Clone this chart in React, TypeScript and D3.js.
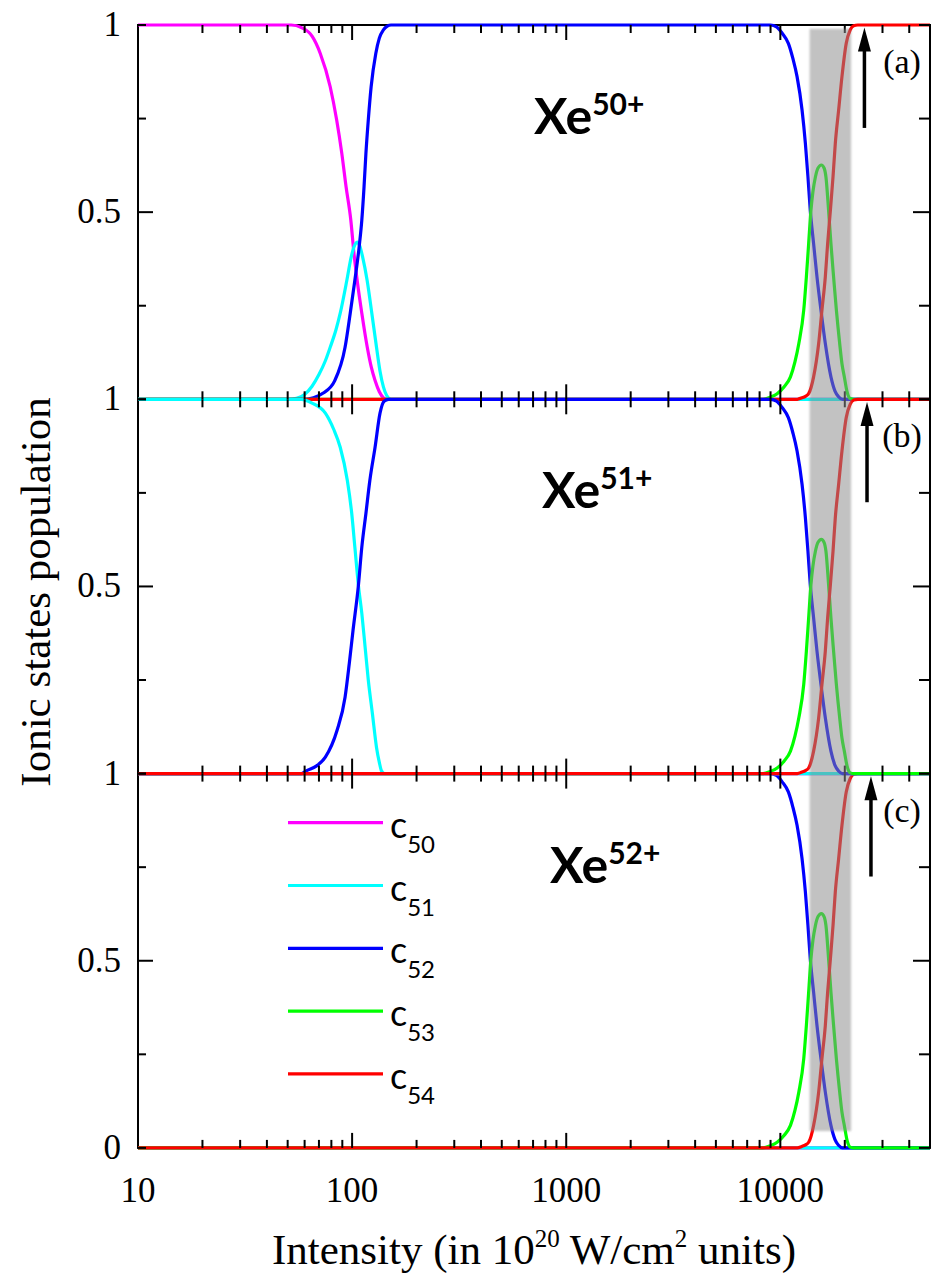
import React from 'react';
import * as d3 from 'd3';

// ---------- data ----------
const xMajorTicks = [10, 100, 1000, 10000];
const xTickLabels = ['10', '100', '1000', '10000'];
const yTicks = [0, 0.25, 0.5, 0.75, 1];
const seriesNames = ['50', '51', '52', '53', '54'];
const seriesColors = ['#ff00ff', '#00ffff', '#0000ff', '#00ff00', '#ff0000'];
const panelIons = ['50+', '51+', '52+'];
const panelTags = ['(a)', '(b)', '(c)'];

type P = [number, number];

const zeroLine: P[] = [[10, 0], [50000, 0]];

// panel (a) Xe50+
const c50a: P[] = [[10, 1], [52, 1], [58, 0.993], [65, 0.97], [71, 0.924], [79, 0.835], [84.7, 0.746], [89.5, 0.657], [93.7, 0.568], [98.6, 0.479], [102, 0.39], [106, 0.31], [111, 0.23], [117.7, 0.139], [123, 0.085], [128, 0.05], [134, 0.02], [140, 0.004], [146, 0], [50000, 0]];
const c51a: P[] = [[10, 0], [50, 0], [55, 0.003], [60, 0.013], [65, 0.035], [70, 0.066], [75, 0.103], [79, 0.139], [84, 0.185], [88, 0.23], [94.5, 0.318], [99, 0.38], [103, 0.413], [105.5, 0.42], [108.5, 0.41], [112, 0.38], [117.5, 0.318], [123.6, 0.23], [130, 0.139], [135, 0.075], [140, 0.033], [145, 0.01], [152, 0], [50000, 0]];
const c52aRise: P[] = [[10, 0], [60, 0], [66, 0.004], [73, 0.016], [83, 0.05], [92.7, 0.139], [98, 0.23], [103, 0.318], [108, 0.41], [111, 0.479], [113.7, 0.568], [116, 0.657], [119, 0.746], [122.7, 0.835], [129, 0.924], [134, 0.965], [140, 0.987], [146, 0.997], [152, 1]];

// panel (b) Xe51+
const c51b: P[] = [[10, 1], [58, 1], [65, 0.99], [75, 0.963], [82, 0.92], [88, 0.872], [95, 0.783], [99.6, 0.695], [103, 0.605], [107, 0.503], [111, 0.428], [115, 0.338], [119, 0.25], [124.4, 0.16], [130, 0.07], [134, 0.03], [137, 0.008], [142, 0], [50000, 0]];
const c52bRise: P[] = [[10, 0], [58, 0], [61.4, 0.008], [68, 0.02], [75, 0.044], [85, 0.115], [92.7, 0.204], [97, 0.294], [101, 0.383], [107, 0.503], [111, 0.605], [116, 0.695], [121, 0.783], [128, 0.872], [135, 0.963], [141, 0.995], [148, 1]];

// panel (c) Xe52+
const c52cStart: P[] = [[10, 1]];

// common high-intensity part (all panels)
const c52Fall: P[] = [[9000, 1], [9600, 0.995], [10200, 0.978], [10900, 0.951], [11450, 0.91], [11970, 0.862], [12630, 0.773], [13090, 0.684], [13460, 0.594], [13800, 0.505], [14300, 0.416], [14830, 0.327], [15480, 0.238], [16220, 0.149], [17230, 0.06], [18000, 0.022], [18700, 0.007], [19500, 0], [50000, 0]];
const c53All: P[] = [[10, 0], [8300, 0], [9000, 0.006], [9660, 0.015], [10400, 0.033], [11150, 0.06], [11700, 0.1], [12200, 0.149], [12860, 0.238], [13230, 0.327], [13560, 0.416], [13900, 0.505], [14200, 0.555], [14580, 0.594], [15000, 0.618], [15550, 0.626], [16000, 0.618], [16330, 0.594], [16800, 0.505], [17230, 0.416], [17730, 0.327], [18270, 0.238], [18930, 0.149], [19400, 0.095], [19900, 0.06], [20500, 0.02], [21200, 0.002], [22000, 0], [50000, 0]];
const c54All: P[] = [[10, 0], [12000, 0], [12600, 0.004], [13100, 0.008], [13560, 0.015], [14300, 0.06], [15100, 0.149], [15640, 0.238], [16220, 0.327], [16630, 0.416], [17130, 0.505], [17620, 0.594], [18060, 0.684], [18720, 0.773], [19400, 0.862], [20310, 0.951], [21200, 0.987], [22000, 0.998], [23000, 1], [50000, 1]];

const panelSeries: P[][][] = [
  [c50a, c51a, [...c52aRise, ...c52Fall], c53All, c54All],
  [zeroLine, c51b, [...c52bRise, ...c52Fall], c53All, c54All],
  [zeroLine, zeroLine, [...c52cStart, ...c52Fall], c53All, c54All],
];

const bandRange = [13700, 21400];
const arrowXs = [24700, 25400, 26500];

// ---------- layout ----------
const W = 933, Hs = 1282;
const left = 138, right = 930;
const panelTop = 25, panelH = 374.3;

const x = d3.scaleLog().domain([10, 50000]).range([left, right]);
const yScales = [0, 1, 2].map(i =>
  d3.scaleLinear().domain([0, 1]).range([panelTop + (i + 1) * panelH, panelTop + i * panelH])
);

const minorX: number[] = [];
[10, 100, 1000, 10000].forEach(d => {
  for (let m = 2; m <= 9; m++) { const v = d * m; if (v <= 50000) minorX.push(v); }
});
const majorX = xMajorTicks.filter(v => v > 10);

const serif = '"Liberation Serif", "Times New Roman", serif';
const sans = 'Lato, "Open Sans", sans-serif';

export default function App() {
  const drawOrder = [0, 2, 1];
  return (
    <svg width={W} height={Hs} style={{ position: 'absolute', left: 0, top: 0, background: '#fff' }}>
      <defs>
        <filter id="soft" x="-20%" y="-1%" width="140%" height="102%">
          <feGaussianBlur stdDeviation="1.2" />
        </filter>
      </defs>
      <rect x={0} y={0} width={W} height={Hs} fill="#fff" />
      {/* frames */}
      {yScales.map((y, i) => (
        <rect key={'f' + i} x={left} y={y(1)} width={right - left} height={y(0) - y(1)} fill="none" stroke="#000" strokeWidth={2} />
      ))}
      {/* curves */}
      {drawOrder.map(pi => {
        const y = yScales[pi];
        const line = d3.line<P>().x(d => x(d[0])).y(d => y(d[1])).curve(d3.curveMonotoneX);
        return (
          <g key={'p' + pi}>
            {panelSeries[pi].map((s, si) => (
              <path key={si} d={line(s) || ''} fill="none" stroke={seriesColors[si]} strokeWidth={3.2} />
            ))}
          </g>
        );
      })}
      {/* ticks */}
      {yScales.map((y, i) => (
        <g key={'t' + i} stroke="#000" strokeWidth={2}>
          {minorX.map(v => (
            <g key={v}>
              <line x1={x(v)} x2={x(v)} y1={y(1)} y2={y(1) + 8} />
              <line x1={x(v)} x2={x(v)} y1={y(0)} y2={y(0) - 8} />
            </g>
          ))}
          {majorX.map(v => (
            <g key={'M' + v}>
              <line x1={x(v)} x2={x(v)} y1={y(1)} y2={y(1) + 15} />
              <line x1={x(v)} x2={x(v)} y1={y(0)} y2={y(0) - 15} />
            </g>
          ))}
          {yTicks.map(t => {
            const major = t === 0.5;
            return (
              <g key={'y' + t}>
                <line x1={left} x2={left + (major ? 15 : 8)} y1={y(t)} y2={y(t)} />
                <line x1={right} x2={right - (major ? 17 : 11)} y1={y(t)} y2={y(t)} />
              </g>
            );
          })}
        </g>
      ))}
      {/* gray band */}
      <rect
        x={x(bandRange[0])}
        y={yScales[0](0.99)}
        width={x(bandRange[1]) - x(bandRange[0])}
        height={yScales[2](0.045) - yScales[0](0.99)}
        fill="#8c8c8c"
        opacity={0.52}
        filter="url(#soft)"
      />
      {/* arrows */}
      {yScales.map((y, i) => {
        const ax = x(arrowXs[i]);
        const tip = y(0.993);
        const tail = y(0.725);
        return (
          <g key={'a' + i}>
            <line x1={ax} x2={ax} y1={tail} y2={tip + 18} stroke="#000" strokeWidth={3.5} />
            <path d={`M${ax},${tip} L${ax - 6.5},${tip + 24} L${ax + 6.5},${tip + 24} Z`} fill="#000" />
          </g>
        );
      })}
      {/* panel tags */}
      {yScales.map((y, i) => (
        <text key={'tag' + i} x={902} y={y(1) + 48} fontFamily={serif} fontSize={34} textAnchor="middle" fill="#000">{panelTags[i]}</text>
      ))}
      {/* ion labels */}
      {yScales.map((y, i) => (
        <text key={'ion' + i} x={534 + i * 8} y={y(1) + 109} fontFamily={sans} fontWeight={700} fontSize={50} fill="#000">
          Xe<tspan fontSize={30} dy={-19}>{panelIons[i]}</tspan>
        </text>
      ))}
      {/* y tick labels */}
      {yScales.map((y, i) => (
        <g key={'yl' + i} fontFamily={serif} fontSize={35} textAnchor="end" fill="#000">
          <text x={121} y={y(1) + 11}>1</text>
          <text x={121} y={y(0.5) + 11}>0.5</text>
          {i === 2 && <text x={121} y={y(0) + 11}>0</text>}
        </g>
      ))}
      {/* x tick labels */}
      {xMajorTicks.map((v, i) => (
        <text key={'xl' + v} x={x(v)} y={1202} fontFamily={serif} fontSize={35} textAnchor="middle" fill="#000">{xTickLabels[i]}</text>
      ))}
      {/* axis titles */}
      <text x={534} y={1264} fontFamily={serif} fontSize={43} textAnchor="middle" fill="#000">
        Intensity (in 10<tspan fontSize={25} dy={-17}>20</tspan><tspan dy={17}> W/cm</tspan><tspan fontSize={25} dy={-17}>2</tspan><tspan dy={17}> units)</tspan>
      </text>
      <text transform={`translate(50,${592}) rotate(-90)`} fontFamily={serif} fontSize={43} textAnchor="middle" fill="#000">Ionic states population</text>
      {/* legend */}
      {seriesNames.map((n, i) => {
        const ly = 822.7 + i * 62.8;
        return (
          <g key={'lg' + n}>
            <line x1={288} x2={383} y1={ly} y2={ly} stroke={seriesColors[i]} strokeWidth={3.2} />
            <text x={390} y={ly + 15} fontFamily={sans} fontSize={36} fill="#000">
              c<tspan fontSize={24} dy={15}>{n}</tspan>
            </text>
          </g>
        );
      })}
    </svg>
  );
}
